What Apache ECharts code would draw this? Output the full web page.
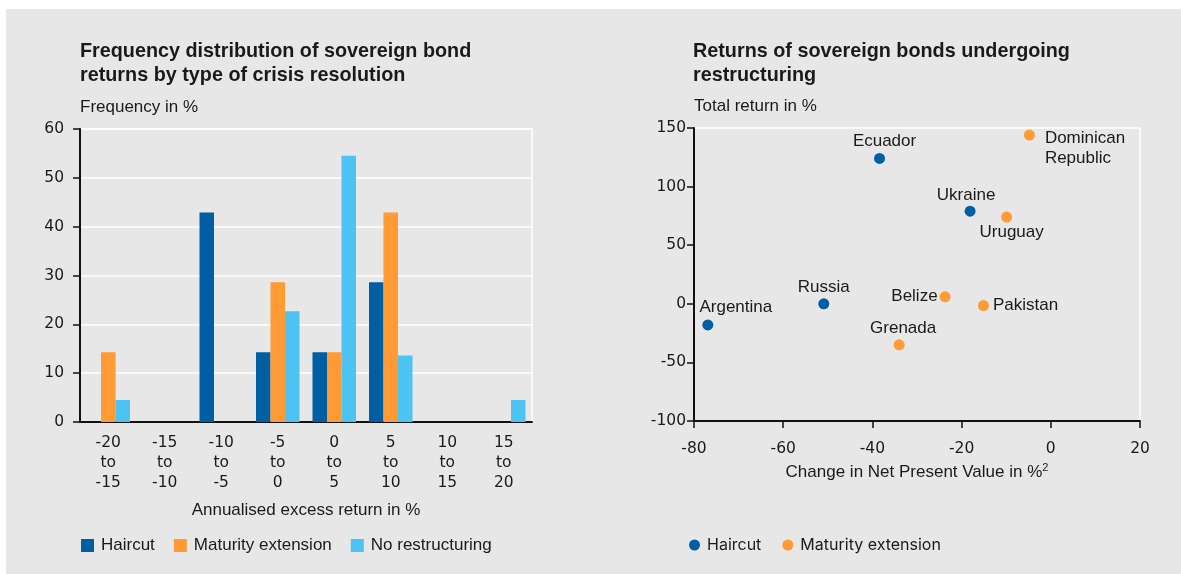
<!DOCTYPE html>
<html lang="en">
<head>
<meta charset="utf-8">
<title>Sovereign bond returns</title>
<script src="https://cdn.jsdelivr.net/npm/echarts@6/dist/echarts.min.js"></script>
<style>
  html, body { margin: 0; padding: 0; background: #fff; }
  #main { width: 1181px; height: 574px; }
</style>
</head>
<body>
<div id="main"></div>
<script type="text/javascript">
// left chart: frequency distribution (%)
var bins = ['-20\nto\n-15', '-15\nto\n-10', '-10\nto\n-5', '-5\nto\n0', '0\nto\n5', '5\nto\n10', '10\nto\n15', '15\nto\n20'];
var haircut = [0, 0, 42.9, 14.3, 14.3, 28.6, 0, 0];
var maturityExt = [14.3, 0, 0, 28.6, 14.3, 42.9, 0, 0];
var noRestructuring = [4.5, 0, 0, 22.7, 54.5, 13.6, 0, 4.5];

// right chart: change in NPV (%) vs total return (%)
var haircutNames = ['Ecuador', 'Ukraine', 'Argentina', 'Russia'];
var haircutNpv = [-38.4, -18.1, -76.9, -50.9];
var haircutReturn = [124, 79, -18, 0];
var extNames = ['Dominican\nRepublic', 'Uruguay', 'Belize', 'Pakistan', 'Grenada'];
var extNpv = [-4.8, -9.9, -23.7, -15.1, -34];
var extReturn = [144, 74, 6, -1.5, -35];

var FONT = '"Liberation Sans", Arial, sans-serif';
var NUMFONT = '"DejaVu Sans", sans-serif';
var TXT = '#1a1a1a';
var C_HAIR = '#005fa3';
var C_EXT = '#ff9a35';
var C_NONE = '#4cc3f1';

// where each country label goes relative to its dot
var labelPos = {
    'Ecuador': { position: 'top', distance: 2, offset: [5, 0] },
    'Ukraine': { position: 'top', distance: 0, offset: [-4, 0] },
    'Argentina': { position: 'top', distance: 2, offset: [28, 0] },
    'Russia': { position: 'top', distance: 1 },
    'Dominican\nRepublic': { position: 'right', distance: 10, offset: [0, 13] },
    'Uruguay': { position: 'bottom', distance: 0, offset: [5, 0] },
    'Belize': { position: 'left', distance: 2 },
    'Pakistan': { position: 'right', distance: 4 },
    'Grenada': { position: 'top', distance: 1, offset: [4, 0] }
};

function points(names, xs, ys) {
    return names.map(function (n, i) {
        var lp = labelPos[n] || {};
        return {
            name: n,
            value: [xs[i], ys[i]],
            label: Object.assign({ show: true, formatter: n }, lp)
        };
    });
}

var axisTxt = { color: TXT, fontFamily: FONT, fontSize: 17 };
var tickTxt = { color: TXT, fontFamily: NUMFONT, fontSize: 15.5 };

var myChart = echarts.init(document.getElementById('main'));
var option = {
    backgroundColor: '#fff',
    animation: false,
    textStyle: { fontFamily: FONT, color: TXT },
    graphic: [
        { type: 'rect', left: 6, top: 9, shape: { width: 1175, height: 565 }, style: { fill: '#e7e7e7' }, z: -10 }
    ],
    title: [
        {
            text: 'Frequency distribution of sovereign bond\nreturns by type of crisis resolution',
            left: 80, top: 40, padding: 0,
            textStyle: { fontFamily: FONT, fontSize: 19.8, fontWeight: 'bold', color: TXT, lineHeight: 24 }
        },
        {
            text: 'Returns of sovereign bonds undergoing\nrestructuring',
            left: 693, top: 40, padding: 0,
            textStyle: { fontFamily: FONT, fontSize: 19.8, fontWeight: 'bold', color: TXT, lineHeight: 24 }
        }
    ],
    legend: [
        {
            data: ['Haircut', 'Maturity extension', 'No restructuring'],
            left: 81, top: 537, padding: 0,
            icon: 'rect', itemWidth: 13, itemHeight: 13, itemGap: 19,
            textStyle: { fontFamily: FONT, fontSize: 17, color: TXT, padding: [0, 0, 0, 2] }
        },
        {
            data: [{ name: 'Haircut', icon: 'circle' }, { name: 'Maturity extension', icon: 'circle' }],
            left: 689, top: 537, padding: 0,
            itemWidth: 11, itemHeight: 11, itemGap: 21,
            textStyle: { fontFamily: 'Inter, ' + FONT, fontSize: 16, color: TXT, padding: [0, 0, 0, 2] }
        }
    ],
    grid: [
        { left: 80, top: 129, width: 452, height: 293, show: true, borderColor: '#fff', borderWidth: 1.5, backgroundColor: 'transparent' },
        { left: 694, top: 128, width: 446, height: 293, show: true, borderColor: '#fff', borderWidth: 1.5, backgroundColor: 'transparent' }
    ],
    xAxis: [
        {
            gridIndex: 0, type: 'category', data: bins,
            axisLine: { lineStyle: { color: '#111', width: 2 } },
            axisTick: { length: 7, lineStyle: { color: '#111', width: 1.5 } },
            axisLabel: Object.assign({ interval: 0, lineHeight: 20, margin: 11 }, tickTxt),
            name: 'Annualised excess return in %', nameLocation: 'middle', nameGap: 80,
            nameTextStyle: axisTxt
        },
        {
            gridIndex: 1, type: 'value', min: -80, max: 20, interval: 20,
            axisLine: { onZero: false, lineStyle: { color: '#111', width: 2 } },
            axisTick: { show: true, length: 7, lineStyle: { color: '#111', width: 1.5 } },
            splitLine: { show: false },
            axisLabel: Object.assign({ margin: 20 }, tickTxt),
            name: 'Change in Net Present Value in %{sup|2}', nameLocation: 'middle', nameGap: 41,
            nameTextStyle: Object.assign({}, axisTxt, {
                rich: { sup: { fontFamily: FONT, fontSize: 11, color: TXT, verticalAlign: 'top', padding: [0, 0, 10, 0] } }
            })
        }
    ],
    yAxis: [
        {
            gridIndex: 0, type: 'value', min: 0, max: 60, interval: 10,
            axisLine: { show: true, lineStyle: { color: '#111', width: 2 } },
            axisTick: { show: true, length: 7, lineStyle: { color: '#111', width: 1.5 } },
            splitLine: { lineStyle: { color: '#fff', width: 1.5 } },
            axisLabel: Object.assign({ margin: 16 }, tickTxt),
            name: 'Frequency in %', nameLocation: 'end', nameGap: 13,
            nameTextStyle: Object.assign({ align: 'left' }, axisTxt)
        },
        {
            gridIndex: 1, type: 'value', min: -100, max: 150, interval: 50,
            axisLine: { show: true, onZero: false, lineStyle: { color: '#111', width: 2 } },
            axisTick: { show: true, length: 7, lineStyle: { color: '#111', width: 1.5 } },
            splitLine: { show: false },
            axisLabel: Object.assign({ margin: 8 }, tickTxt),
            name: 'Total return in %', nameLocation: 'end', nameGap: 13,
            nameTextStyle: Object.assign({ align: 'left' }, axisTxt)
        }
    ],
    series: [
        { name: 'Haircut', type: 'bar', xAxisIndex: 0, yAxisIndex: 0, data: haircut, barGap: 0, barCategoryGap: '23%', itemStyle: { color: C_HAIR } },
        { name: 'Maturity extension', type: 'bar', xAxisIndex: 0, yAxisIndex: 0, data: maturityExt, itemStyle: { color: C_EXT } },
        { name: 'No restructuring', type: 'bar', xAxisIndex: 0, yAxisIndex: 0, data: noRestructuring, itemStyle: { color: C_NONE } },
        {
            name: 'Haircut', type: 'scatter', xAxisIndex: 1, yAxisIndex: 1, symbolSize: 11,
            data: points(haircutNames, haircutNpv, haircutReturn),
            itemStyle: { color: C_HAIR, opacity: 1 },
            label: { color: TXT, fontFamily: FONT, fontSize: 17, lineHeight: 20 }
        },
        {
            name: 'Maturity extension', type: 'scatter', xAxisIndex: 1, yAxisIndex: 1, symbolSize: 11,
            data: points(extNames, extNpv, extReturn),
            itemStyle: { color: C_EXT, opacity: 1 },
            label: { color: TXT, fontFamily: FONT, fontSize: 17, lineHeight: 20 }
        }
    ]
};
myChart.setOption(option);
</script>
</body>
</html>
